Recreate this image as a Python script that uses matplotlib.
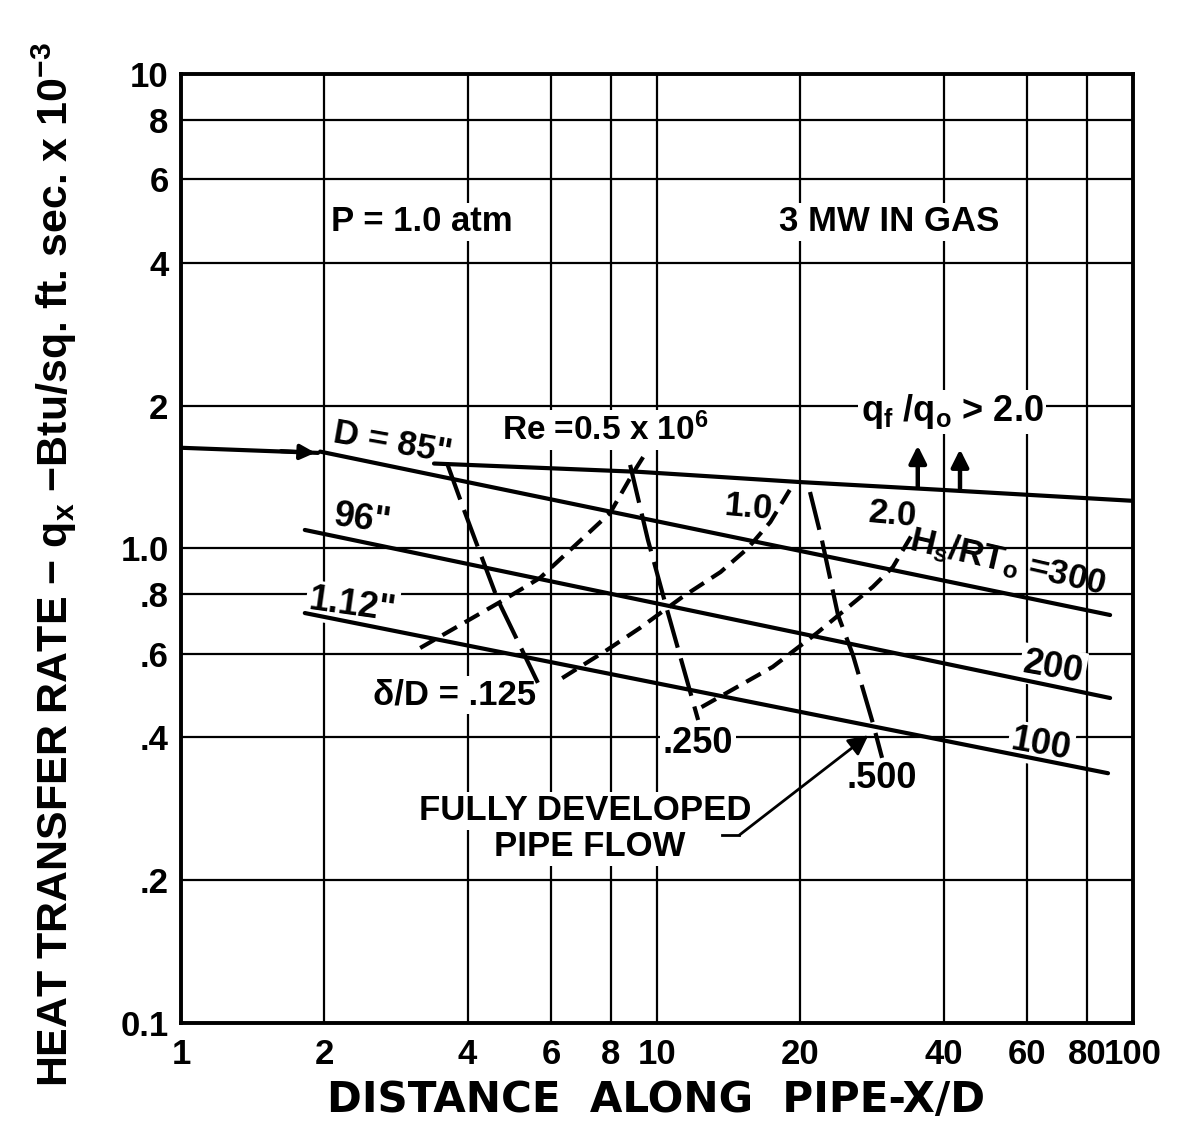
import matplotlib
matplotlib.use('Agg')
import matplotlib.pyplot as plt
from matplotlib.ticker import FixedLocator, NullLocator, FixedFormatter

plt.rcParams['font.family'] = ['Liberation Sans', 'DejaVu Sans']
plt.rcParams['font.weight'] = 'bold'
plt.rcParams['mathtext.default'] = 'regular'
plt.rcParams['lines.scale_dashes'] = False

# ---------------- data ----------------
xticks = [1, 2, 4, 6, 8, 10, 20, 40, 60, 80, 100]
xticklabels = ['1', '2', '4', '6', '8', '10', '20', '40', '60', '80', '100']
yticks = [0.1, 0.2, 0.4, 0.6, 0.8, 1.0, 2, 4, 6, 8, 10]
yticklabels = ['0.1', '.2', '.4', '.6', '.8', '1.0', '2', '4', '6', '8', '10']

# q_f/q_o > 2.0 boundary (two pieces, broken by the D=85" label)
bound_left_x = [1.0, 1.94]
bound_left_y = [1.63, 1.59]
bound_x = [3.4, 9.2, 20, 39, 100]
bound_y = [1.51, 1.45, 1.38, 1.33, 1.26]

# H_s/RT_o lines (D = .85", .96", 1.12")
h300_x = [1.96, 89.5]
h300_y = [1.60, 0.724]
h200_x = [1.82, 89.5]
h200_y = [1.094, 0.484]
h100_x = [1.82, 88.6]
h100_y = [0.731, 0.336]

# constant Reynolds number curves
re05_x = [3.18, 4.68, 5.68, 7.97, 8.91, 9.35]
re05_y = [0.617, 0.771, 0.867, 1.188, 1.443, 1.558]
re10_x = [6.32, 7.85, 9.21, 11.3, 13.6, 15.5, 17.3, 19.0]
re10_y = [0.533, 0.611, 0.680, 0.790, 0.892, 1.0, 1.137, 1.328]
re20_x = [12.4, 17.5, 21.7, 28.4, 31.3, 34.8]
re20_y = [0.463, 0.563, 0.664, 0.830, 0.914, 1.094]

# constant delta/D lines
d125_x = [3.62, 3.91, 4.15, 4.63, 5.62]
d125_y = [1.514, 1.223, 1.042, 0.779, 0.521]
d250_x = [8.78, 9.57, 10.5, 12.2]
d250_y = [1.50, 1.042, 0.742, 0.435]
d500_x = [20.96, 22.2, 24.0, 25.8, 28.4, 29.7]
d500_y = [1.315, 1.042, 0.724, 0.596, 0.429, 0.362]

# up arrows on boundary
uparrow_x = [35.3, 43.3]
uparrow_base = [1.33, 1.32]
uparrow_tip = [1.67, 1.64]

# fully developed pipe flow pointer
fd_x = [13.7, 14.9, 27.8]
fd_y = [0.249, 0.249, 0.404]

# ---------------- figure ----------------
fig = plt.figure(figsize=(11.8, 11.34), dpi=100)
ax = fig.add_axes([0.1534, 0.0979, 0.8068, 0.8369])
ax.set_xscale('log')
ax.set_yscale('log')
ax.set_xlim(1, 100)
ax.set_ylim(0.1, 10)
ax.xaxis.set_major_locator(FixedLocator(xticks))
ax.xaxis.set_major_formatter(FixedFormatter(xticklabels))
ax.yaxis.set_major_locator(FixedLocator(yticks))
ax.yaxis.set_major_formatter(FixedFormatter(yticklabels))
ax.xaxis.set_minor_locator(NullLocator())
ax.yaxis.set_minor_locator(NullLocator())
ax.tick_params(length=0, labelsize=25)
ax.tick_params(axis='x', pad=11)
ax.tick_params(axis='y', pad=9)
for lab in ax.get_xticklabels() + ax.get_yticklabels():
    lab.set_fontweight('bold')
ax.set_axisbelow(True)
ax.grid(True, color='black', lw=1.6)
for s in ax.spines.values():
    s.set_linewidth(2.8)
    s.set_zorder(5)

LW = 3.0
solid = dict(color='black', lw=LW, solid_capstyle='round', zorder=2)
ax.plot(bound_left_x, bound_left_y, **solid)
ax.plot(bound_x, bound_y, **solid)
ax.plot(h300_x, h300_y, **solid)
ax.plot(h200_x, h200_y, **solid)
ax.plot(h100_x, h100_y, **solid)

short = dict(color='black', lw=LW, dashes=(12, 6.5), zorder=2)
for xs, ys in [(re05_x, re05_y), (re10_x, re10_y), (re20_x, re20_y)]:
    ax.plot(xs, ys, **short)
long_ = dict(color='black', lw=LW, dashes=(28, 8), zorder=2)
for xs, ys in [(d125_x, d125_y), (d250_x, d250_y), (d500_x, d500_y)]:
    ax.plot(xs, ys, **long_)

# arrowhead on left boundary piece
ax.annotate('', xy=(bound_left_x[1], bound_left_y[1]), xytext=(1.6, 1.605),
            arrowprops=dict(arrowstyle='-|>', color='black', lw=LW, mutation_scale=22),
            zorder=3)
for x, yb, yt in zip(uparrow_x, uparrow_base, uparrow_tip):
    ax.annotate('', xy=(x, yt), xytext=(x, yb),
                arrowprops=dict(arrowstyle='-|>', color='black', lw=3.2, mutation_scale=26),
                zorder=3)
ax.plot(fd_x[:2], fd_y[:2], color='black', lw=2.0, zorder=2)
ax.annotate('', xy=(fd_x[2], fd_y[2]), xytext=(fd_x[1], fd_y[1]),
            arrowprops=dict(arrowstyle='-|>', color='black', lw=2.0, mutation_scale=30,
                            shrinkA=0, shrinkB=0), zorder=3)

# ---------------- labels ----------------
box = dict(facecolor='white', edgecolor='none', pad=2)

def lbl(x, y, s, size=24, rot=0, bbox=True, **kw):
    ax.text(x, y, s, fontsize=size, fontweight='bold', rotation=rot,
            rotation_mode='anchor', ha='center', va='center', zorder=1,
            bbox=box if bbox else None, **kw)

lbl(3.21, 4.88, 'P = 1.0 atm', size=25)
lbl(30.7, 4.88, '3 MW IN GAS', size=25)
lbl(2.78, 1.668, 'D = 85"', size=25, rot=-10, bbox=False)
lbl(2.40, 1.148, '96"', size=26, rot=-8, bbox=False)
lbl(2.29, 0.756, '1.12"', size=26, rot=-8)
lbl(7.78, 1.78, 'Re =0.5 x 10$^{6}$', size=24)
lbl(41.7, 1.94, 'q$_{f}$ /q$_{o}$ > 2.0', size=26)
lbl(15.6, 1.217, '1.0', size=25, rot=-5, bbox=False)
lbl(31.3, 1.176, '2.0', size=25, rot=-5, bbox=False)
lbl(54.6, 0.937, 'H$_{s}$/RT$_{o}$ =300', size=25, rot=-13, bbox=False)
lbl(67.9, 0.560, '200', size=26, rot=-10)
lbl(64.1, 0.385, '100', size=26, rot=-10)
lbl(3.76, 0.491, 'δ/D = .125', size=25)
lbl(12.2, 0.389, '.250', size=26)
lbl(29.7, 0.328, '.500', size=26)
lbl(7.06, 0.280, 'FULLY DEVELOPED', size=25)
lbl(7.23, 0.235, 'PIPE FLOW', size=25)

ylab = fig.text(0.046, 0.502,
                'HEAT TRANSFER RATE − q$_{x}$ −Btu/sq. ft. sec. x 10$^{-3}$',
                rotation=90, ha='center', va='center', fontsize=30, fontweight='bold')
xlab = fig.text(0.556, 0.030, 'DISTANCE  ALONG  PIPE-X/D',
                ha='center', va='center', fontsize=28, fontweight='bold',
                family=['DejaVu Sans'])
fig.canvas.draw()
r = fig.canvas.get_renderer()
h = ylab.get_window_extent(r).height
ylab.set_fontsize(30 * 1045 / h)
w = xlab.get_window_extent(r).width
xlab.set_fontsize(28 * 658 / w)

fig.savefig('out.png', dpi=100)
